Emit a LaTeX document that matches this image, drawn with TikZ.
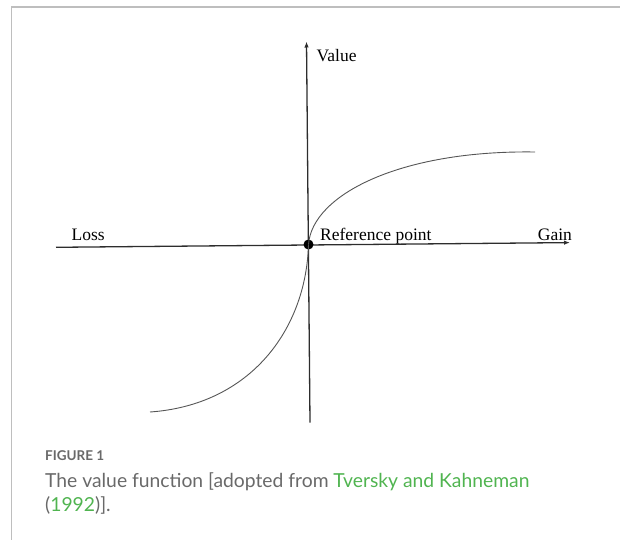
\documentclass[tikz,border=0pt]{standalone}
\usepackage{fontspec}
\setmainfont{Liberation Serif}
\newfontfamily\capfont{Lato}
\usetikzlibrary{arrows.meta}
\definecolor{framegray}{RGB}{190,190,190}
\definecolor{axisgray}{RGB}{45,45,45}
\definecolor{curvegray}{RGB}{85,85,85}
\definecolor{captext}{RGB}{105,105,105}
\definecolor{capgreen}{RGB}{80,180,80}
\tikzset{
  frame/.style={draw=framegray, line width=1.2pt},
  axis/.style={draw=axisgray, line width=1.3pt},
  axisarrow/.style={axis, -{Latex[length=6pt,width=4.5pt]}},
  curve/.style={draw=curvegray, line width=0.9pt},
  lbl/.style={anchor=base west, inner sep=0pt, font=\fontsize{17.5}{20}\selectfont, text=black},
  captxt/.style={anchor=base west, inner sep=0pt, text=captext}
}
\begin{document}
\begin{tikzpicture}[x=1pt,y=-1pt]
\useasboundingbox (0,0) rectangle (620,540);
% frame
\coordinate (ftl) at (11.5,7);
\coordinate (ftr) at (620,7);
\coordinate (fbl) at (11.5,540);
\draw[frame] (ftr) -- (ftl) -- (fbl);
% axes
\coordinate (vtop) at (306.5,41.5);
\coordinate (vbot) at (310,422.5);
\coordinate (hleft) at (56,247.3);
\coordinate (hright) at (570,242.6);
\draw[axisarrow] (vbot) -- (vtop);
\draw[axisarrow] (hleft) -- (hright);
% reference point
\node[circle, fill=black, inner sep=0pt, minimum size=10pt] (ref) at (308.5,244.5) {};
% curves
\coordinate (gend) at (535,152);
\coordinate (lend) at (150,412);
\draw[curve] (ref.center) .. controls (312,195) and (400,150) .. (gend);
\draw[curve] (ref.center) .. controls (306,330) and (250,405) .. (lend);
% labels
\node[lbl] (value) at (316.5,62) {Value};
\node[lbl] (loss) at (71.5,240.7) {Loss};
\node[lbl] (reftxt) at (320,240.7) {Reference point};
\node[lbl] (gain) at (537.7,240.7) {Gain};
% caption
\node[captxt, font=\capfont\bfseries\fontsize{13.5}{16}\selectfont] (fig) at (45,460) {FIGURE 1};
\node[captxt, font=\capfont\fontsize{19.3}{24}\selectfont] (cap1) at (45,487) {The value function [adopted from \textcolor{capgreen}{Tversky and Kahneman}};
\node[captxt, font=\capfont\fontsize{19.3}{24}\selectfont] (cap2) at (45,511) {(\textcolor{capgreen}{1992})].};
\end{tikzpicture}
\end{document}
